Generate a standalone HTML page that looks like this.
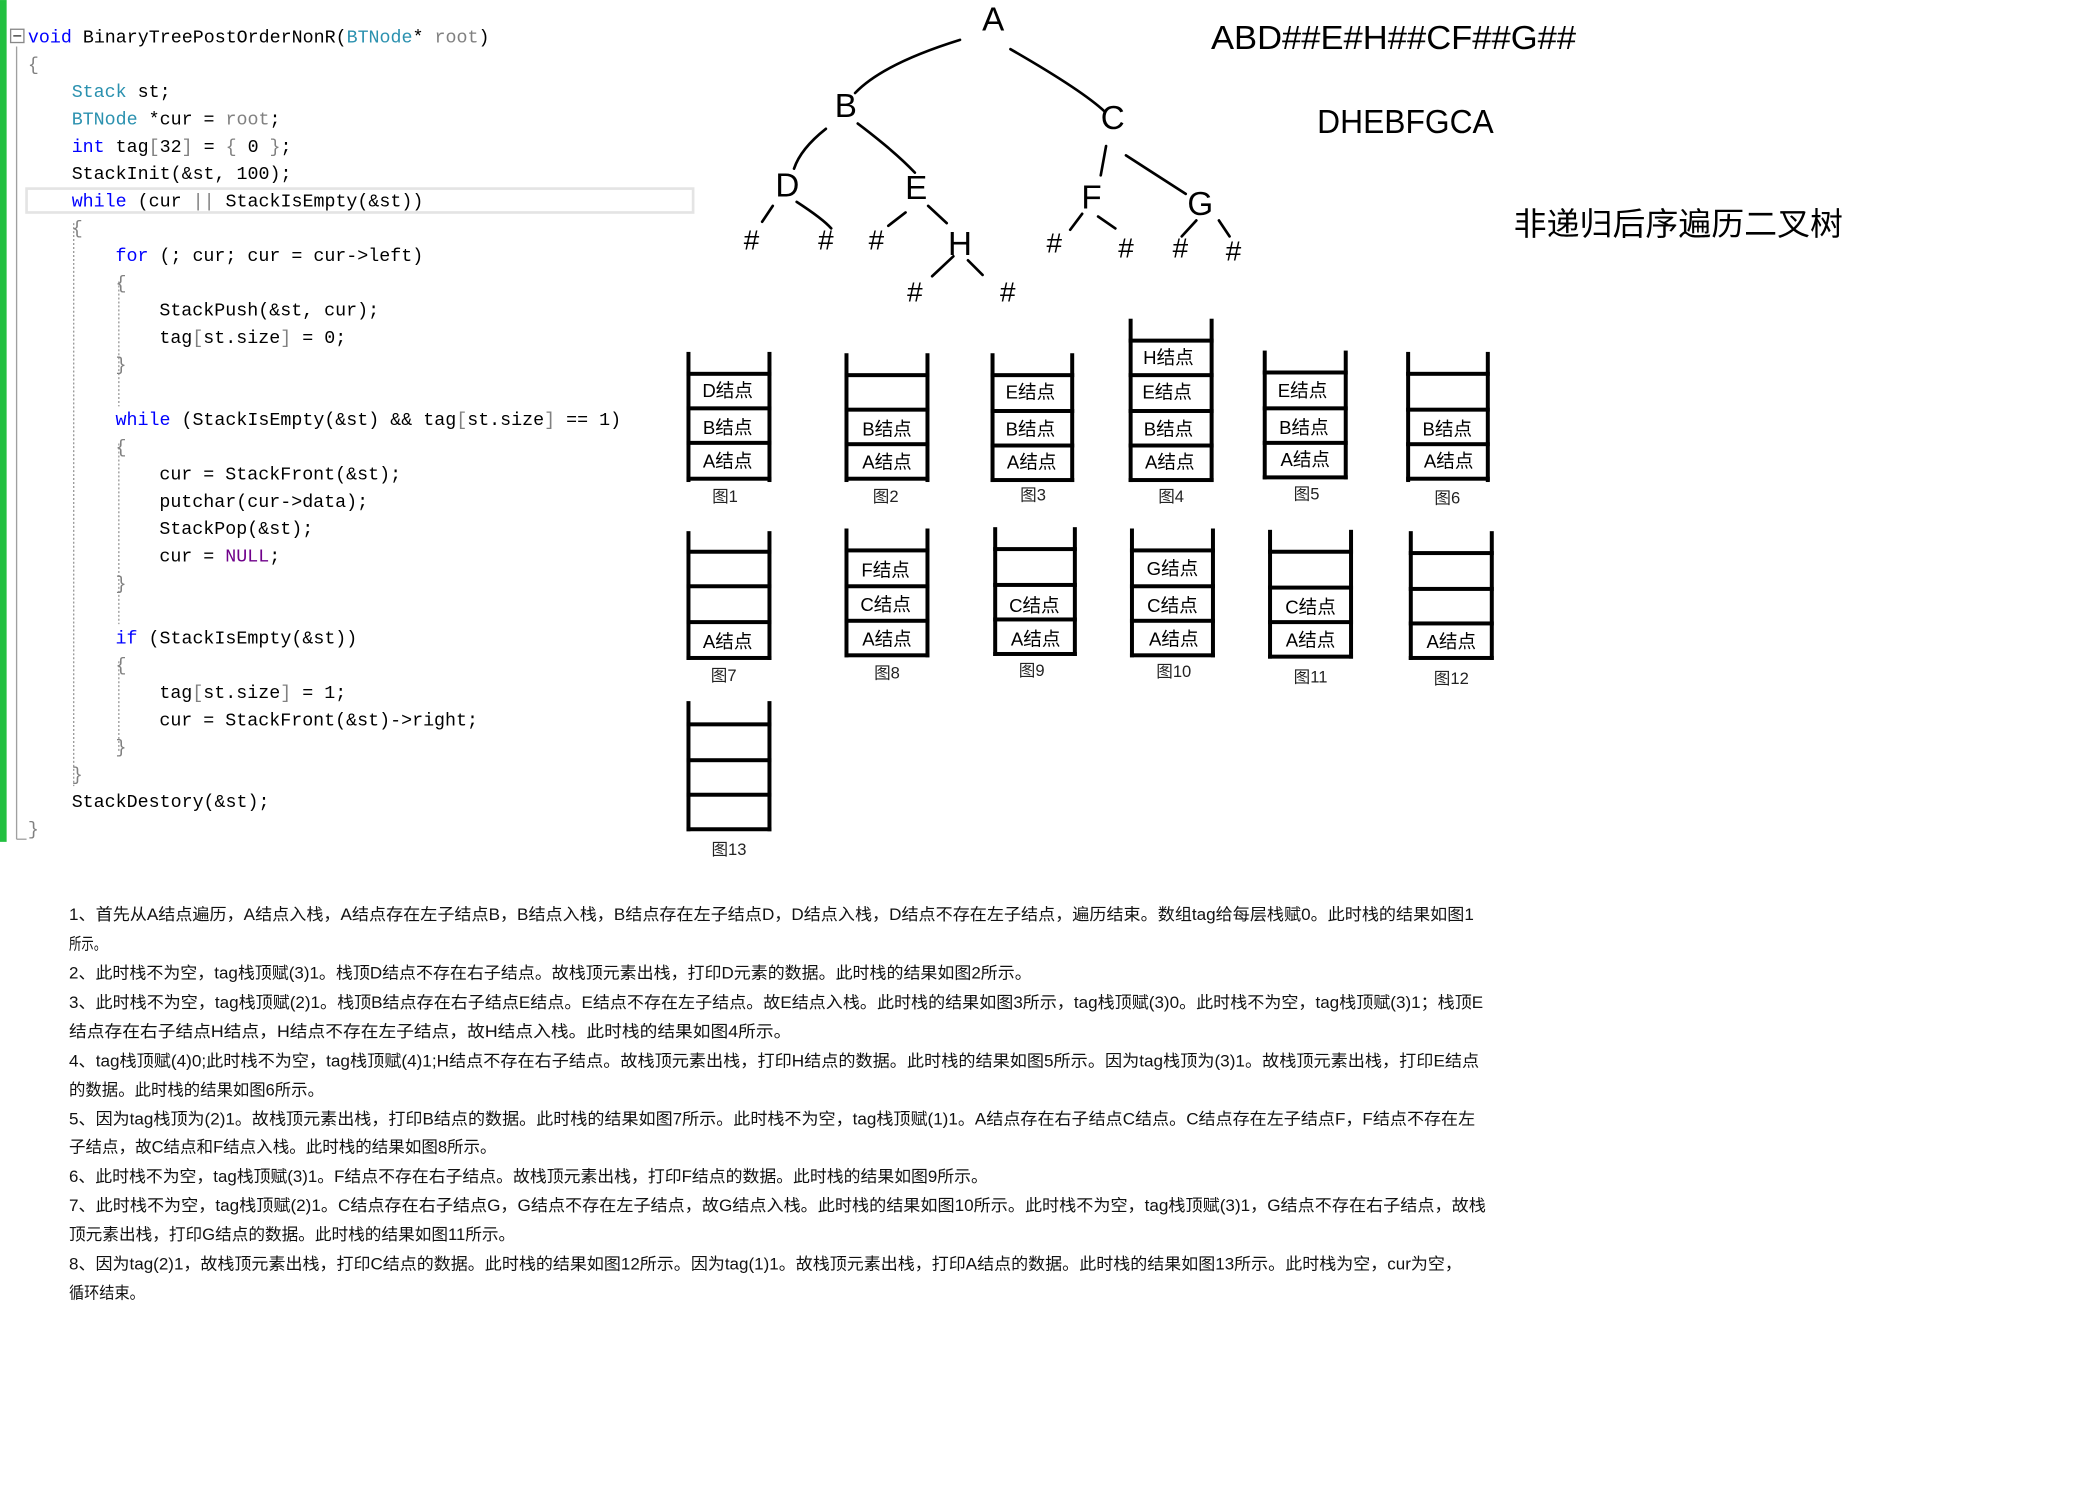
<!DOCTYPE html>
<html><head><meta charset="utf-8"><style>
html,body{margin:0;padding:0;background:#fff;width:2082px;height:1492px;overflow:hidden}
svg{display:block}
.code{font-family:"Liberation Mono",monospace;font-size:13.8px;fill:#000;white-space:pre}
.kw{fill:#0000ff}.ty{fill:#2b91af}.gr{fill:#808080}.nu{fill:#6f008a}
.tr{font-family:"Liberation Sans",sans-serif;font-size:25px;fill:#000}
.cell{font-family:"Liberation Sans","Noto Sans CJK SC",sans-serif;font-size:14px;fill:#000}
.cap{font-family:"Liberation Sans","Noto Sans CJK SC",sans-serif;font-size:12.5px;fill:#222}
.para{font-family:"Liberation Sans","Noto Sans CJK SC",sans-serif;font-size:12.3px;fill:#111}
</style></head><body>
<svg width="2082" height="1492" viewBox="0 0 1568 1123.6" xmlns="http://www.w3.org/2000/svg">
<!-- editor chrome -->
<rect x="0" y="0" width="5" height="634" fill="#22c040"/>
<line x1="12.5" y1="35" x2="12.5" y2="632" stroke="#a0a0a0" stroke-width="1"/>
<line x1="12.5" y1="632" x2="20" y2="632" stroke="#a0a0a0" stroke-width="1"/>
<rect x="8" y="22" width="10" height="10" fill="#fff" stroke="#888" stroke-width="1"/>
<line x1="10" y1="27" x2="16" y2="27" stroke="#333" stroke-width="1"/>
<rect x="20" y="142" width="502" height="18" fill="none" stroke="#e4e4e4" stroke-width="2"/>
<line x1="55.5" y1="168" x2="55.5" y2="592" stroke="#999" stroke-width="1" stroke-dasharray="1.5,1.5"/>
<line x1="89.5" y1="212" x2="89.5" y2="306" stroke="#999" stroke-width="1" stroke-dasharray="1.5,1.5"/>
<line x1="89.5" y1="334" x2="89.5" y2="470" stroke="#999" stroke-width="1" stroke-dasharray="1.5,1.5"/>
<line x1="89.5" y1="498" x2="89.5" y2="566" stroke="#999" stroke-width="1" stroke-dasharray="1.5,1.5"/>
<g class="code" xml:space="preserve">
<text x="21" y="32"><tspan class="kw">void</tspan> BinaryTreePostOrderNonR(<tspan class="ty">BTNode</tspan>* <tspan class="gr">root</tspan>)</text>
<text x="21" y="52.6"><tspan class="gr">{</tspan></text>
<text x="54" y="73.1"><tspan class="ty">Stack</tspan> st;</text>
<text x="54" y="93.7"><tspan class="ty">BTNode</tspan> *cur = <tspan class="gr">root</tspan>;</text>
<text x="54" y="114.3"><tspan class="kw">int</tspan> tag<tspan class="gr">[</tspan>32<tspan class="gr">]</tspan> = <tspan class="gr">{</tspan> 0 <tspan class="gr">}</tspan>;</text>
<text x="54" y="134.8">StackInit(&amp;st, 100);</text>
<text x="54" y="155.4"><tspan class="kw">while</tspan> (cur <tspan class="gr">||</tspan> StackIsEmpty(&amp;st))</text>
<text x="54" y="176"><tspan class="gr">{</tspan></text>
<text x="87" y="196.6"><tspan class="kw">for</tspan> (; cur; cur = cur-&gt;left)</text>
<text x="87" y="217.1"><tspan class="gr">{</tspan></text>
<text x="120" y="237.7">StackPush(&amp;st, cur);</text>
<text x="120" y="258.3">tag<tspan class="gr">[</tspan>st.size<tspan class="gr">]</tspan> = 0;</text>
<text x="87" y="278.8"><tspan class="gr">}</tspan></text>
<text x="87" y="320"><tspan class="kw">while</tspan> (StackIsEmpty(&amp;st) &amp;&amp; tag<tspan class="gr">[</tspan>st.size<tspan class="gr">]</tspan> == 1)</text>
<text x="87" y="340.6"><tspan class="gr">{</tspan></text>
<text x="120" y="361.1">cur = StackFront(&amp;st);</text>
<text x="120" y="381.7">putchar(cur-&gt;data);</text>
<text x="120" y="402.3">StackPop(&amp;st);</text>
<text x="120" y="422.8">cur = <tspan class="nu">NULL</tspan>;</text>
<text x="87" y="443.4"><tspan class="gr">}</tspan></text>
<text x="87" y="484.5"><tspan class="kw">if</tspan> (StackIsEmpty(&amp;st))</text>
<text x="87" y="505.1"><tspan class="gr">{</tspan></text>
<text x="120" y="525.7">tag<tspan class="gr">[</tspan>st.size<tspan class="gr">]</tspan> = 1;</text>
<text x="120" y="546.2">cur = StackFront(&amp;st)-&gt;right;</text>
<text x="87" y="566.8"><tspan class="gr">}</tspan></text>
<text x="54" y="587.4"><tspan class="gr">}</tspan></text>
<text x="54" y="607.9">StackDestory(&amp;st);</text>
<text x="21" y="628.5"><tspan class="gr">}</tspan></text>
</g>
<!-- tree -->
<g fill="none" stroke="#000" stroke-width="2" stroke-linecap="round">
<path d="M723,30 Q665,48 644,70"/>
<path d="M761,37 Q815,68 832,84"/>
<path d="M622,97 Q603,112 598,127"/>
<path d="M646,93 Q675,115 689,130"/>
<path d="M833,110 L829,132"/>
<path d="M848,117 L893,146"/>
<path d="M582,155 L574,167"/>
<path d="M600,152 Q620,165 626,172"/>
<path d="M682,160 L669,170"/>
<path d="M699,155 L713,168"/>
<path d="M815,161 L806,173"/>
<path d="M827,163 L840,172"/>
<path d="M901,166 L890,178"/>
<path d="M918,166 L926,178"/>
<path d="M718,193 L702,208"/>
<path d="M729,196 L740,207"/>
</g>
<g class="tr" text-anchor="middle">
<text x="748" y="23">A</text><text x="637" y="88">B</text><text x="838" y="97">C</text>
<text x="593" y="148">D</text><text x="690" y="150">E</text><text x="822" y="157">F</text>
<text x="904" y="162">G</text><text x="723" y="192">H</text>
</g>
<g class="tr" text-anchor="middle" style="font-size:21px">
<text x="566" y="188">#</text><text x="622" y="188">#</text><text x="660" y="188">#</text>
<text x="689" y="227">#</text><text x="759" y="227">#</text><text x="794" y="190">#</text>
<text x="848" y="194">#</text><text x="889" y="194">#</text><text x="929" y="196">#</text>
</g>
<text class="tr" x="912" y="37" textLength="275" lengthAdjust="spacingAndGlyphs">ABD##E#H##CF##G##</text>
<text class="tr" x="992" y="100" textLength="133" lengthAdjust="spacingAndGlyphs">DHEBFGCA</text>
<text x="1140" y="177" textLength="248" lengthAdjust="spacingAndGlyphs" style="font-family:'Noto Sans CJK SC',sans-serif;font-size:24px">非递归后序遍历二叉树</text>
<!-- stacks -->
<g fill="#000">
<!-- helper pattern: verticals + bars -->
<!-- 1 -->
<rect x="517" y="265" width="3" height="98"/><rect x="578" y="265" width="3" height="98"/>
<rect x="517" y="280" width="64" height="3"/><rect x="517" y="306" width="64" height="3"/><rect x="517" y="332" width="64" height="3"/><rect x="517" y="359" width="64" height="3"/>
<!-- 2 -->
<rect x="636" y="266" width="3" height="97"/><rect x="697" y="266" width="3" height="97"/>
<rect x="636" y="281" width="64" height="3"/><rect x="636" y="307" width="64" height="3"/><rect x="636" y="333" width="64" height="3"/><rect x="636" y="359" width="64" height="3"/>
<!-- 3 -->
<rect x="746" y="266" width="3" height="97"/><rect x="806" y="266" width="3" height="97"/>
<rect x="746" y="281" width="63" height="3"/><rect x="746" y="308" width="63" height="3"/><rect x="746" y="334" width="63" height="3"/><rect x="746" y="360" width="63" height="3"/>
<!-- 4 -->
<rect x="850" y="240" width="3" height="123"/><rect x="911" y="240" width="3" height="123"/>
<rect x="850" y="255" width="64" height="3"/><rect x="850" y="281" width="64" height="3"/><rect x="850" y="308" width="64" height="3"/><rect x="850" y="334" width="64" height="3"/><rect x="850" y="360" width="64" height="3"/>
<!-- 5 -->
<rect x="951" y="264" width="3" height="97"/><rect x="1012" y="264" width="3" height="97"/>
<rect x="951" y="279" width="64" height="3"/><rect x="951" y="306" width="64" height="3"/><rect x="951" y="332" width="64" height="3"/><rect x="951" y="358" width="64" height="3"/>
<!-- 6 -->
<rect x="1059" y="265" width="3" height="98"/><rect x="1119" y="265" width="3" height="98"/>
<rect x="1059" y="280" width="63" height="3"/><rect x="1059" y="307" width="63" height="3"/><rect x="1059" y="333" width="63" height="3"/><rect x="1059" y="359" width="63" height="3"/>
<!-- 7 -->
<rect x="517" y="400" width="3" height="97"/><rect x="578" y="400" width="3" height="97"/>
<rect x="517" y="414" width="64" height="3"/><rect x="517" y="440" width="64" height="3"/><rect x="517" y="467" width="64" height="3"/><rect x="517" y="494" width="64" height="3"/>
<!-- 8 -->
<rect x="636" y="398" width="3" height="97"/><rect x="697" y="398" width="3" height="97"/>
<rect x="636" y="413" width="64" height="3"/><rect x="636" y="440" width="64" height="3"/><rect x="636" y="466" width="64" height="3"/><rect x="636" y="492" width="64" height="3"/>
<!-- 9 -->
<rect x="748" y="397" width="3" height="97"/><rect x="808" y="397" width="3" height="97"/>
<rect x="748" y="412" width="63" height="3"/><rect x="748" y="439" width="63" height="3"/><rect x="748" y="465" width="63" height="3"/><rect x="748" y="491" width="63" height="3"/>
<!-- 10 -->
<rect x="851" y="398" width="3" height="97"/><rect x="912" y="398" width="3" height="97"/>
<rect x="851" y="413" width="64" height="3"/><rect x="851" y="440" width="64" height="3"/><rect x="851" y="466" width="64" height="3"/><rect x="851" y="492" width="64" height="3"/>
<!-- 11 -->
<rect x="955" y="399" width="3" height="97"/><rect x="1016" y="399" width="3" height="97"/>
<rect x="955" y="414" width="64" height="3"/><rect x="955" y="441" width="64" height="3"/><rect x="955" y="467" width="64" height="3"/><rect x="955" y="493" width="64" height="3"/>
<!-- 12 -->
<rect x="1061" y="400" width="3" height="97"/><rect x="1122" y="400" width="3" height="97"/>
<rect x="1061" y="415" width="64" height="3"/><rect x="1061" y="442" width="64" height="3"/><rect x="1061" y="468" width="64" height="3"/><rect x="1061" y="494" width="64" height="3"/>
<!-- 13 -->
<rect x="517" y="528" width="3" height="98"/><rect x="578" y="528" width="3" height="98"/>
<rect x="517" y="544" width="64" height="3"/><rect x="517" y="571" width="64" height="3"/><rect x="517" y="597" width="64" height="3"/><rect x="517" y="623" width="64" height="3"/>
</g>
<g class="cell" text-anchor="middle">
<text x="548" y="299">D结点</text><text x="548" y="327">B结点</text><text x="548" y="352">A结点</text>
<text x="668" y="328">B结点</text><text x="668" y="353">A结点</text>
<text x="776" y="300">E结点</text><text x="776" y="328">B结点</text><text x="777" y="353">A结点</text>
<text x="880" y="274">H结点</text><text x="879" y="300">E结点</text><text x="880" y="328">B结点</text><text x="881" y="353">A结点</text>
<text x="981" y="299">E结点</text><text x="982" y="327">B结点</text><text x="983" y="351">A结点</text>
<text x="1090" y="328">B结点</text><text x="1091" y="352">A结点</text>
<text x="548" y="488">A结点</text>
<text x="667" y="434">F结点</text><text x="667" y="460">C结点</text><text x="668" y="486">A结点</text>
<text x="779" y="461">C结点</text><text x="780" y="486">A结点</text>
<text x="883" y="433">G结点</text><text x="883" y="461">C结点</text><text x="884" y="486">A结点</text>
<text x="987" y="462">C结点</text><text x="987" y="487">A结点</text>
<text x="1093" y="488">A结点</text>
</g>
<g class="cap" text-anchor="middle">
<text x="546" y="378">图1</text><text x="667" y="378">图2</text><text x="778" y="377">图3</text>
<text x="882" y="378">图4</text><text x="984" y="376">图5</text><text x="1090" y="379">图6</text>
<text x="545" y="513">图7</text><text x="668" y="511">图8</text><text x="777" y="509">图9</text>
<text x="884" y="510">图10</text><text x="987" y="514">图11</text><text x="1093" y="515">图12</text>
<text x="549" y="644">图13</text>
</g>
<!-- paragraph -->
<g class="para">
<text x="52" y="693" textLength="1058" lengthAdjust="spacingAndGlyphs">1、首先从A结点遍历，A结点入栈，A结点存在左子结点B，B结点入栈，B结点存在左子结点D，D结点入栈，D结点不存在左子结点，遍历结束。数组tag给每层栈赋0。此时栈的结果如图1</text>
<text x="52" y="715" textLength="28" lengthAdjust="spacingAndGlyphs">所示。</text>
<text x="52" y="737" textLength="725" lengthAdjust="spacingAndGlyphs">2、此时栈不为空，tag栈顶赋(3)1。栈顶D结点不存在右子结点。故栈顶元素出栈，打印D元素的数据。此时栈的结果如图2所示。</text>
<text x="52" y="759" textLength="1065" lengthAdjust="spacingAndGlyphs">3、此时栈不为空，tag栈顶赋(2)1。栈顶B结点存在右子结点E结点。E结点不存在左子结点。故E结点入栈。此时栈的结果如图3所示，tag栈顶赋(3)0。此时栈不为空，tag栈顶赋(3)1；栈顶E</text>
<text x="52" y="781" textLength="544" lengthAdjust="spacingAndGlyphs">结点存在右子结点H结点，H结点不存在左子结点，故H结点入栈。此时栈的结果如图4所示。</text>
<text x="52" y="803" textLength="1062" lengthAdjust="spacingAndGlyphs">4、tag栈顶赋(4)0;此时栈不为空，tag栈顶赋(4)1;H结点不存在右子结点。故栈顶元素出栈，打印H结点的数据。此时栈的结果如图5所示。因为tag栈顶为(3)1。故栈顶元素出栈，打印E结点</text>
<text x="52" y="825" textLength="192" lengthAdjust="spacingAndGlyphs">的数据。此时栈的结果如图6所示。</text>
<text x="52" y="847" textLength="1059" lengthAdjust="spacingAndGlyphs">5、因为tag栈顶为(2)1。故栈顶元素出栈，打印B结点的数据。此时栈的结果如图7所示。此时栈不为空，tag栈顶赋(1)1。A结点存在右子结点C结点。C结点存在左子结点F，F结点不存在左</text>
<text x="52" y="868" textLength="322" lengthAdjust="spacingAndGlyphs">子结点，故C结点和F结点入栈。此时栈的结果如图8所示。</text>
<text x="52" y="890" textLength="692" lengthAdjust="spacingAndGlyphs">6、此时栈不为空，tag栈顶赋(3)1。F结点不存在右子结点。故栈顶元素出栈，打印F结点的数据。此时栈的结果如图9所示。</text>
<text x="52" y="912" textLength="1067" lengthAdjust="spacingAndGlyphs">7、此时栈不为空，tag栈顶赋(2)1。C结点存在右子结点G，G结点不存在左子结点，故G结点入栈。此时栈的结果如图10所示。此时栈不为空，tag栈顶赋(3)1，G结点不存在右子结点，故栈</text>
<text x="52" y="934" textLength="336" lengthAdjust="spacingAndGlyphs">顶元素出栈，打印G结点的数据。此时栈的结果如图11所示。</text>
<text x="52" y="956" textLength="1049" lengthAdjust="spacingAndGlyphs">8、因为tag(2)1，故栈顶元素出栈，打印C结点的数据。此时栈的结果如图12所示。因为tag(1)1。故栈顶元素出栈，打印A结点的数据。此时栈的结果如图13所示。此时栈为空，cur为空，</text>
<text x="52" y="978" textLength="57" lengthAdjust="spacingAndGlyphs">循环结束。</text>
</g>
</svg>
</body></html>
